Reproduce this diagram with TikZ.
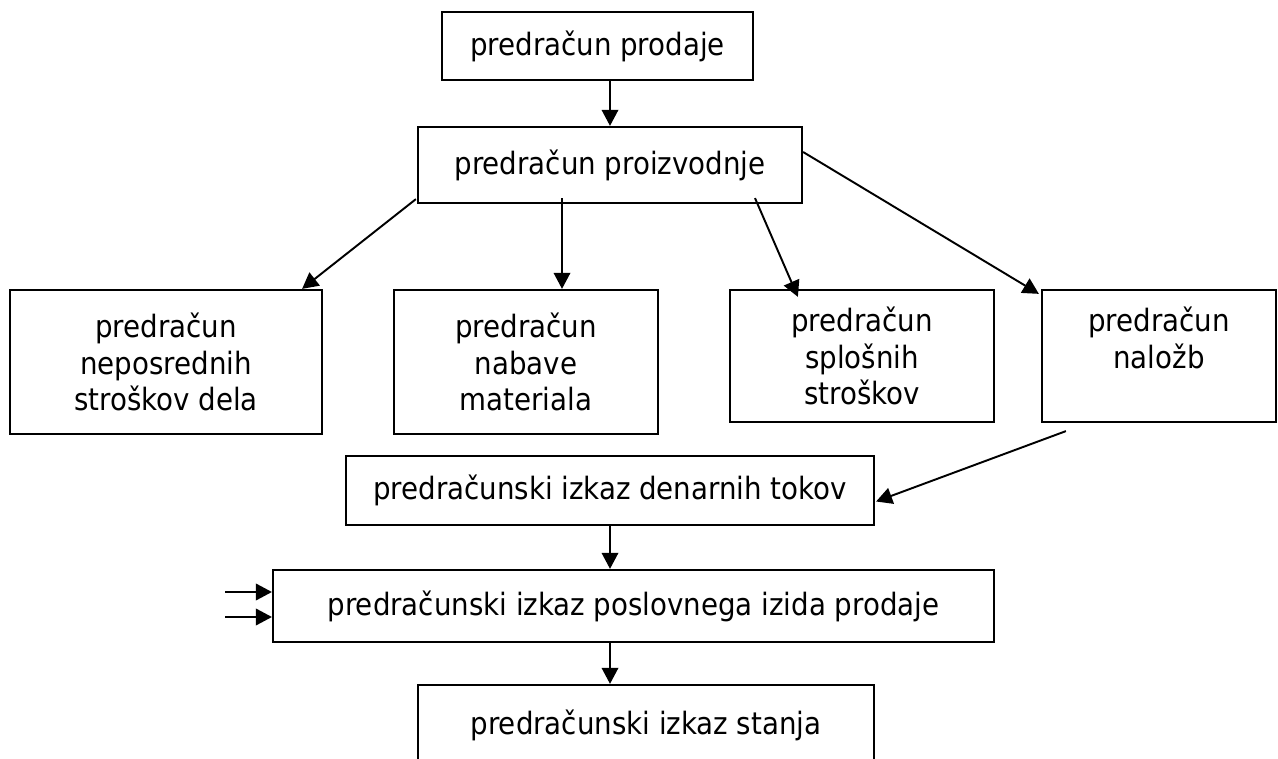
\documentclass[tikz,border=0pt]{standalone}
\usepackage{fontspec}
\setmainfont{DejaVu Sans Condensed}
\usepackage{tikz}
\usetikzlibrary{arrows.meta, calc}
\tikzset{>={Triangle[length=0.32cm,width=0.33cm]}}
\tikzset{
  okvir/.style={draw, line width=1.3pt, inner sep=0pt, align=center,
    font=\fontsize{17.5}{21}\selectfont},
  tok/.style={->, line width=1.1pt}
}

\begin{document}
\begin{tikzpicture}[x=0.02cm, y=-0.02cm]
   \useasboundingbox (0,0) rectangle (1278,759);
   \clip (0,0) rectangle (1278,759);

   \node[okvir, minimum width=6.22cm, minimum height=1.36cm] (prod) at (597.5,46) {predračun prodaje};
   \node[okvir, minimum width=7.68cm, minimum height=1.52cm] (proiz) at (610,165) {predračun proizvodnje};

   \node[okvir, minimum width=6.24cm, minimum height=2.88cm] (nepos) at (166,362) {predračun\\neposrednih\\stroškov dela};
   \node[okvir, minimum width=5.28cm, minimum height=2.88cm] (nabave) at (526,362) {predračun\\nabave\\materiala};
   \node[okvir, minimum width=5.28cm, minimum height=2.64cm] (splos) at (862,356) {predračun\\splošnih\\stroškov};
   \node[okvir, minimum width=4.68cm, minimum height=2.64cm] (nalozb) at (1159,356) {predračun\\naložb\\~};

   \node[okvir, minimum width=10.56cm, minimum height=1.38cm] (denar) at (610,490.5) {predračunski izkaz denarnih tokov};
   \node[okvir, minimum width=14.42cm, minimum height=1.44cm] (poslov) at (633.5,606) {predračunski izkaz poslovnega izida prodaje};
   \node[okvir, minimum width=9.12cm, minimum height=1.60cm] (stanja) at (646,725) {predračunski izkaz stanja};

   \coordinate (vhod1) at (225,592);
   \coordinate (vhod2) at (225,617);

   \draw[tok] (prod.south -| proiz.north) -- (proiz.north);
   \draw[tok] ($(proiz.south west)+(-1,-5)$) -- ($(nepos.north east)+(-21,0)$);
   \draw[tok] ($(proiz.south)+(-48,-6)$) -- ($(nabave.north)+(36,0)$);
   \draw[tok] ($(proiz.south)+(145,-6)$) -- ($(splos.north west)+(69,8)$);
   \draw[tok] ($(proiz.east)+(0,-13)$) -- ($(nalozb.north west)+(-2,5)$);
   \draw[tok] ($(nalozb.south west)+(25,8)$) -- ($(denar.east)+(1,11)$);
   \draw[tok] (denar.south) -- (poslov.north -| denar.south);
   \draw[tok] (poslov.south -| denar.south) -- (stanja.north -| denar.south);
   \draw[tok] (vhod1) -- (vhod1 -| poslov.west);
   \draw[tok] (vhod2) -- (vhod2 -| poslov.west);

\end{tikzpicture}
\end{document}
